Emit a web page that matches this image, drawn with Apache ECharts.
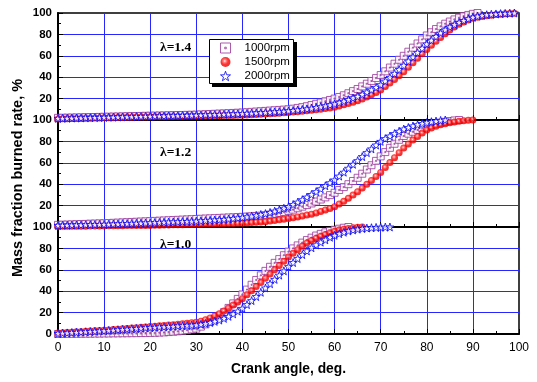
<!DOCTYPE html>
<html>
<head>
<meta charset="utf-8">
<script src="https://cdn.jsdelivr.net/npm/echarts@6/dist/echarts.min.js"></script>
<style>
  html, body { margin: 0; padding: 0; background: #fff; }
  #chart { width: 537px; height: 382px; }
</style>
</head>
<body>
<div id="chart"></div>
<script>
// Crank angle samples (deg), one per degree
const crankAngle = [0,1,2,3,4,5,6,7,8,9,10,11,12,13,14,15,16,17,18,19,20,21,22,23,24,25,26,27,28,29,30,31,32,33,34,35,36,37,38,39,40,41,42,43,44,45,46,47,48,49,50,51,52,53,54,55,56,57,58,59,60,61,62,63,64,65,66,67,68,69,70,71,72,73,74,75,76,77,78,79,80,81,82,83,84,85,86,87,88,89,90,91,92,93,94,95,96,97,98,99,100];

const seriesNames = ['1000rpm', '1500rpm', '2000rpm'];
const panelLabels = ['\u03bb=1.4', '\u03bb=1.2', '\u03bb=1.0'];
const xTicks = [0, 10, 20, 30, 40, 50, 60, 70, 80, 90, 100];
const yTicks = [0, 20, 40, 60, 80, 100];
const xTitle = 'Crank angle, deg.';
const yTitle = 'Mass fraction burned rate, %';

// Mass fraction burned (%), lambda = 1.4
const l14_1000 = [2.0,2.1,2.2,2.3,2.4,2.5,2.6,2.7,2.8,2.9, 3.0,3.1,3.2,3.3,3.4,3.5,3.6,3.7,3.8,3.9, 4.0,4.1,4.2,4.3,4.4,4.5,4.6,4.7,4.8,4.9, 5.0,5.2,5.4,5.6,5.8,6.0,6.2,6.4,6.6,6.8, 7.0,7.3,7.6,7.9,8.2,8.5,8.8,9.1,9.4,9.7, 10.0,10.6,11.3,12.0,12.9,14.0,15.1,16.3,17.5,18.7, 20.0,21.5,23.1,25.0,27.0,29.0,31.4,33.9,36.5,39.2, 42.0,45.5,49.0,52.6,56.3,60.0,63.8,67.6,71.5,75.3, 79.0,82.0,85.0,87.5,90.0,92.0,94.0,95.6,97.0,98.2, 99.2,100];
const l14_1500 = [1.0,1.1,1.2,1.3,1.4,1.5,1.6,1.7,1.8,1.9, 2.0,2.1,2.2,2.3,2.4,2.5,2.6,2.7,2.8,2.9, 3.0,3.0,3.1,3.1,3.2,3.2,3.3,3.3,3.4,3.4, 3.5,3.6,3.7,3.8,3.9,4.0,4.1,4.2,4.3,4.4, 4.5,4.7,4.9,5.1,5.3,5.5,5.8,6.1,6.4,6.7, 7.0,7.4,7.8,8.2,8.6,9.0,9.5,10.1,10.7,11.3, 12.0,13.0,14.2,15.4,16.7,18.0,19.7,21.6,23.6,25.8, 28.0,31.2,34.5,37.8,41.4,45.0,49.2,53.4,57.6,61.8, 66.0,69.8,73.6,77.2,80.7,84.0,87.0,89.4,91.6,93.4, 95.0,96.0,96.8,97.5,98.0,98.5,98.9,99.2,99.5,99.7];
const l14_2000 = [1.5,1.6,1.7,1.8,1.9,2.0,2.1,2.2,2.3,2.4, 2.5,2.6,2.7,2.8,2.9,3.0,3.1,3.2,3.3,3.4, 3.5,3.6,3.7,3.8,3.9,4.0,4.1,4.2,4.3,4.4, 4.5,4.6,4.8,4.9,5.1,5.2,5.4,5.5,5.7,5.8, 6.0,6.2,6.4,6.6,6.8,7.0,7.3,7.6,7.9,8.2, 8.5,8.9,9.4,9.9,10.4,11.0,11.7,12.4,13.2,14.1, 15.0,16.2,17.5,19.0,20.5,22.0,23.9,26.0,28.2,30.5, 33.0,36.4,39.8,43.4,47.2,51.0,55.0,59.0,63.0,67.0, 71.0,74.5,78.0,81.3,84.3,87.0,89.2,91.2,93.0,94.6, 96.0,97.0,97.8,98.4,98.8,99.1,99.4,99.6,99.8,100];

// Mass fraction burned (%), lambda = 1.2
const l12_1000 = [2.0,2.2,2.3,2.5,2.6,2.8,2.9,3.1,3.2,3.4, 3.5,3.7,3.9,4.1,4.3,4.5,4.7,4.9,5.1,5.3, 5.5,5.7,5.9,6.1,6.3,6.5,6.7,6.9,7.1,7.3, 7.5,7.7,7.9,8.1,8.3,8.5,8.7,8.9,9.1,9.3, 9.5,9.7,10.0,10.3,10.6,11.0,11.6,12.3,13.1,14.0, 15.0,16.2,17.5,19.0,20.5,22.0,23.8,25.7,27.7,29.8, 32.0,34.6,37.3,40.0,43.0,46.0,49.8,53.7,57.7,61.8, 66.0,70.0,74.0,77.8,81.5,85.0,87.2,89.0,90.8,92.5, 94.0,95.3,96.5,97.5,98.3,99.0,99.6,100];
const l12_1500 = [0.5,0.6,0.6,0.7,0.7,0.8,0.8,0.9,0.9,1.0, 1.0,1.1,1.1,1.2,1.2,1.3,1.3,1.4,1.4,1.5, 1.5,1.6,1.7,1.8,1.9,2.0,2.1,2.2,2.3,2.4, 2.5,2.6,2.7,2.8,2.9,3.0,3.1,3.2,3.3,3.4, 3.5,3.8,4.1,4.4,4.7,5.0,5.5,6.1,6.7,7.3, 8.0,8.7,9.4,10.2,11.1,12.0,13.2,14.5,15.9,17.4, 19.0,21.4,24.0,26.8,29.8,33.0,36.4,39.9,43.5,47.2, 51.0,55.6,60.2,64.8,69.4,73.8,77.6,81.2,84.6,87.8, 90.6,92.6,94.2,95.5,96.6,97.5,98.2,98.8,99.3,99.7, 100];
const l12_2000 = [1.5,1.6,1.7,1.8,1.9,2.0,2.1,2.2,2.3,2.4, 2.5,2.6,2.8,2.9,3.1,3.2,3.4,3.5,3.7,3.8, 4.0,4.2,4.3,4.5,4.6,4.8,4.9,5.1,5.2,5.4, 5.5,5.8,6.0,6.3,6.5,6.8,7.1,7.5,8.0,8.5, 9.0,9.6,10.2,10.9,11.7,12.5,13.6,14.8,16.1,17.5, 19.0,21.0,23.2,25.5,27.9,30.4,33.0,35.7,38.5,41.3, 44.0,47.6,51.2,54.9,58.6,62.0,65.8,69.5,73.0,76.6, 80.0,82.6,85.0,87.3,89.5,91.5,93.0,94.4,95.6,96.7, 97.6,98.4,99.0,99.6,100];

// Mass fraction burned (%), lambda = 1.0
const l10_1000 = [0.0,0.0,0.1,0.1,0.2,0.2,0.3,0.3,0.4,0.4, 0.5,0.5,0.6,0.6,0.7,0.7,0.8,0.8,0.9,0.9, 1.0,1.1,1.3,1.5,1.8,2.1,2.5,3.0,3.6,4.3, 5.0,6.9,9.0,11.4,14.0,17.0,20.4,24.4,28.6,32.8, 37.0,41.5,46.0,50.5,54.8,59.0,62.8,66.5,70.0,73.6, 77.0,80.0,82.8,85.4,87.8,90.0,92.0,93.6,95.0,96.3, 97.4,98.4,99.3,100];
const l10_1500 = [1.0,1.2,1.5,1.7,2.0,2.2,2.5,2.7,3.0,3.2, 3.5,3.8,4.2,4.5,4.9,5.2,5.6,5.9,6.3,6.6, 7.0,7.3,7.6,8.0,8.3,8.7,9.1,9.5,10.0,10.5, 11.0,12.0,13.3,15.0,16.9,19.0,21.5,24.2,27.0,30.0, 33.0,36.7,40.5,44.3,48.1,52.0,56.0,60.0,64.0,68.0, 72.0,75.5,78.8,82.0,85.0,87.4,89.5,91.4,93.0,94.6, 96.0,97.1,98.0,98.7,99.3,99.7,100];
const l10_2000 = [0.5,0.8,1.0,1.3,1.5,1.8,2.0,2.3,2.5,2.8, 3.0,3.3,3.6,3.9,4.2,4.5,4.8,5.1,5.4,5.7, 6.0,6.2,6.5,6.7,7.0,7.2,7.5,7.7,8.0,8.2, 8.5,9.1,9.8,10.7,11.8,13.0,14.6,16.5,18.8,21.3, 24.0,27.5,31.2,35.0,39.0,43.0,47.0,51.0,55.0,59.0, 63.0,66.8,70.5,74.2,77.6,80.6,83.3,85.8,88.0,90.4, 92.2,93.8,95.1,96.3,97.2,98.0,98.6,99.0,99.3,99.6, 99.8,99.9,100];

const panels = [
  [l14_1000, l14_1500, l14_2000],
  [l12_1000, l12_1500, l12_2000],
  [l10_1000, l10_1500, l10_2000]
];

const FONT = 'Arial, "Liberation Sans", sans-serif';
const SERIF_BOLD = 'bold 13.5px "Liberation Serif", "Times New Roman", serif';
const GRID_BLUE = '#2626ff';
const PURPLE = '#993399';

// Marker shapes: open square with centre dot, shaded ball, open star
const squareDot = 'path://M0,0H10V10H0ZM4.2,4.2H5.8V5.8H4.2Z';
const star = 'path://M0,-10L2.35,-3.24L9.51,-3.09L3.8,1.24L5.88,8.09L0,4L-5.88,8.09L-3.8,1.24L-9.51,-3.09L-2.35,-3.24Z';

const markerStyles = [
  { symbol: squareDot, symbolSize: 7, itemStyle: { color: '#ffffff', borderColor: PURPLE, borderWidth: 1 } },
  { symbol: 'circle', symbolSize: 7, itemStyle: {
      color: { type: 'radial', x: 0.42, y: 0.4, r: 0.62,
        colorStops: [ { offset: 0, color: '#fff2f2' }, { offset: 0.22, color: '#ff6a6a' }, { offset: 0.55, color: '#ff0000' }, { offset: 1, color: '#e00000' } ] },
      borderWidth: 0 } },
  { symbol: star, symbolSize: 8, itemStyle: { color: '#ffffff', borderColor: '#0000ff', borderWidth: 1 } }
];

const gridTop = [13, 120, 227];
const gridHeight = 107;

const grids = [], xAxes = [], yAxes = [], series = [];
panels.forEach((panel, p) => {
  grids.push({ left: 58, right: 18, top: gridTop[p], height: gridHeight,
    show: true, borderColor: '#000', borderWidth: 1.5, backgroundColor: 'transparent' });
  const isBottom = p === panels.length - 1;
  xAxes.push({
    type: 'value', gridIndex: p, min: 0, max: 100, interval: 10,
    axisLine: { show: true, lineStyle: { color: '#000', width: 2 } },
    axisTick: { show: true, inside: true, length: 5, lineStyle: { color: '#000', width: 1 } },
    minorTick: { show: true, splitNumber: 2, length: 3, lineStyle: { color: '#000', width: 1 } },
    splitLine: { show: true, lineStyle: { color: GRID_BLUE, width: 1 } },
    axisLabel: { show: isBottom, color: '#000', fontFamily: FONT, fontSize: 12, margin: 8,
      formatter: v => (xTicks.indexOf(v) >= 0 ? String(v) : '') },
    name: isBottom ? xTitle : '',
    nameLocation: 'middle', nameGap: 28,
    nameTextStyle: { color: '#000', fontFamily: FONT, fontSize: 13.8, fontWeight: 'bold' }
  });
  yAxes.push({
    type: 'value', gridIndex: p, min: 0, max: 100, interval: 20,
    axisLine: { show: true, lineStyle: { color: '#000', width: 2 } },
    axisTick: { show: true, inside: true, length: 5, lineStyle: { color: '#000', width: 1 } },
    minorTick: { show: true, splitNumber: 2, length: 3, lineStyle: { color: '#000', width: 1 } },
    splitLine: { show: true, lineStyle: { color: GRID_BLUE, width: 1 } },
    axisLabel: { color: '#000', fontFamily: FONT, fontSize: 11.5, fontWeight: 'bold', margin: 6,
      formatter: v => (yTicks.indexOf(v) < 0 || (v === 0 && !isBottom)) ? '' : String(v) }
  });
  panel.forEach((values, s) => {
    series.push(Object.assign({
      type: 'scatter', name: seriesNames[s], xAxisIndex: p, yAxisIndex: p,
      data: values.map((v, i) => [crankAngle[i], v]),
      z: 2 + s, clip: false
    }, markerStyles[s]));
  });
});

const chart = echarts.init(document.getElementById('chart'), null, { renderer: 'canvas' });
chart.setOption({
  animation: false,
  backgroundColor: '#fff',
  grid: grids,
  xAxis: xAxes,
  yAxis: yAxes,
  series: series,
  legend: {
    data: seriesNames, orient: 'vertical', left: 209, top: 39,
    padding: [2, 5, 1, 11], itemGap: 0, itemWidth: 10, itemHeight: 10,
    backgroundColor: 'transparent', borderWidth: 0, z: 10,
    textStyle: { color: '#000', fontFamily: FONT, fontSize: 11.5, lineHeight: 14, padding: [0, 0, 0, 9] },
    itemStyle: { borderWidth: 'inherit' }
  },
  graphic: [
    { type: 'rect', z: 8, shape: { x: 212, y: 42, width: 85, height: 45 }, style: { fill: '#000' } },
    { type: 'rect', z: 9, shape: { x: 209.5, y: 39.5, width: 84, height: 44 }, style: { fill: '#fff', stroke: '#000', lineWidth: 1 } },
    { type: 'text', z: 9, left: 160, top: 41, style: { text: panelLabels[0], font: SERIF_BOLD, fill: '#000' } },
    { type: 'text', z: 9, left: 160, top: 146, style: { text: panelLabels[1], font: SERIF_BOLD, fill: '#000' } },
    { type: 'text', z: 9, left: 160, top: 238, style: { text: panelLabels[2], font: SERIF_BOLD, fill: '#000' } },
    { type: 'text', z: 9, x: 18, y: 178, rotation: Math.PI / 2,
      style: { text: yTitle, font: 'bold 14.5px Arial, "Liberation Sans", sans-serif', fill: '#000', align: 'center', verticalAlign: 'middle' } }
  ]
});
</script>
</body>
</html>
